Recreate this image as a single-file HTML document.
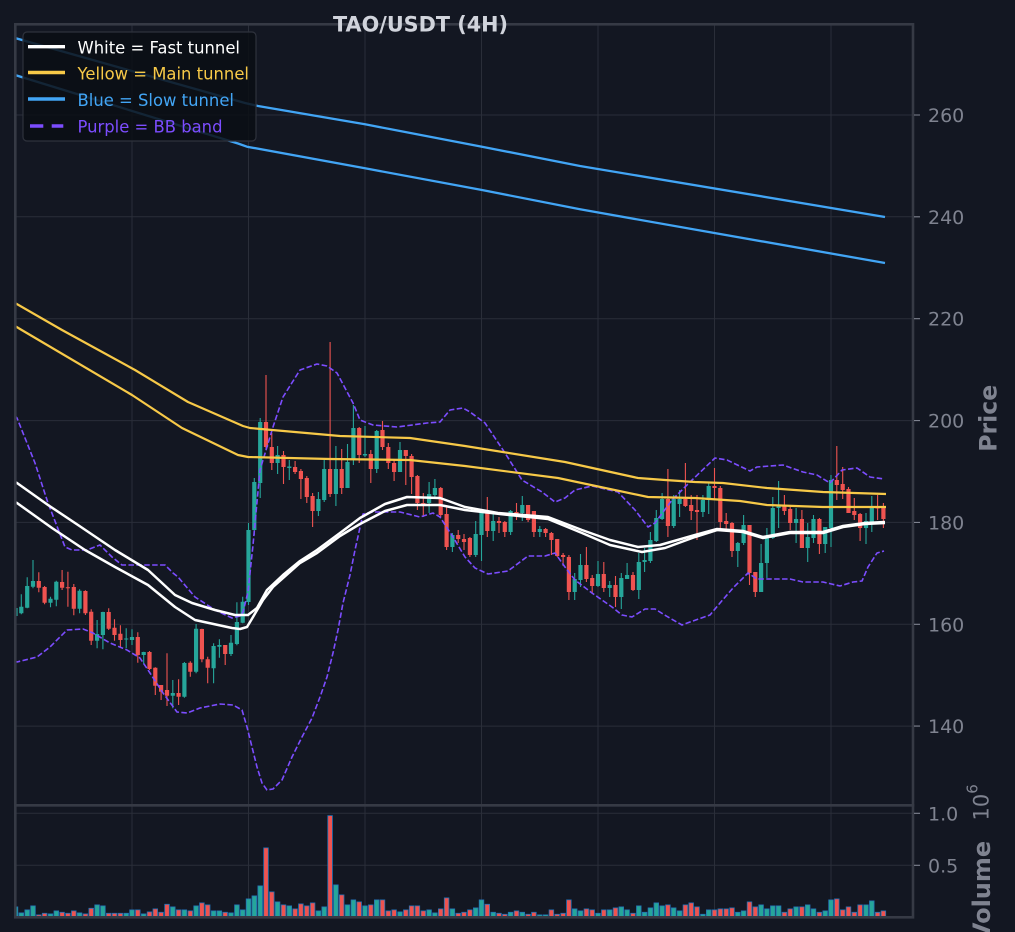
<!DOCTYPE html>
<html><head><meta charset="utf-8"><style>
html,body{margin:0;padding:0;background:#131722;}
svg{display:block;}
text{font-family:"DejaVu Sans","Liberation Sans",sans-serif;}
</style></head><body>
<svg width="1015" height="932" viewBox="0 0 1015 932" xmlns="http://www.w3.org/2000/svg">
<defs>
<clipPath id="cm"><rect x="15.3" y="24.3" width="897.7" height="781"/></clipPath>
<clipPath id="cv"><rect x="15.3" y="805.3" width="897.7" height="112"/></clipPath>
</defs>
<rect width="1015" height="932" fill="#131722"/>
<!-- grid -->
<g stroke="#2a2e39" stroke-width="1">
<path d="M15 115H913M15 216.8H913M15 318.7H913M15 420.6H913M15 522.4H913M15 624.3H913M15 726.1H913"/>
<path d="M132 24V805M248.5 24V805M365 24V805M481.5 24V805M598 24V805M714.5 24V805M831 24V805"/>
<path d="M15 813.3H913M15 865.3H913"/>
<path d="M132 805V917M248.5 805V917M365 805V917M481.5 805V917M598 805V917M714.5 805V917M831 805V917"/>
</g>
<g clip-path="url(#cm)">
<!-- candles -->
<path fill="none" stroke="#26a69a" stroke-width="1.1" d="M15.5 604V620M21.3 594.3V614.3M27.2 577.3V608.3M33 560V588.3M50.5 596.7V607.3M56.3 580.7V606.3M79.6 589.3V613.3M97.1 620V648.3M102.9 611.7V649.3M126.2 628.3V648.3M132 629.3V645M143.7 651.7V664M172.8 680V708.3M184.4 662V697.7M196.1 624V673.3M213.6 643.3V683.3M219.4 639.3V657.7M231 635V656M236.9 602.3V645.3M242.7 596.7V623.3M248.5 523V605M254.3 478V535M260.2 418V498M277.6 446V474M289.3 460V480M318.4 492V516M324.2 460V502M335.9 446V506M347.5 444V488M353.4 405V465M365 426V457M376.7 430V473M400 442V472M429.1 482V513M434.9 479V497M452.4 533V552M475.7 521V557M481.5 511V561M493.2 511V541M510.6 510V535M522.3 496V521M539.8 526V537M574.7 573V600M580.5 554V587M598 561V587M609.7 581V597M621.3 573V609M627.1 563V579M638.8 553V599M644.6 548V572M650.4 532V563M656.3 510V542M662.1 493V520M673.7 495V528M679.6 490V517M702.9 495V517M708.7 483V514M737.8 542V567M743.6 515V545M761.1 544V592M766.9 528V578M772.8 497V539M778.6 481V528M796.1 508V543M807.7 523V562M813.5 515V543M825.2 527V553M831 475V547M866 513V544M871.8 496V532"/>
<path fill="none" stroke="#26a69a" stroke-width="4.2" d="M15.5 608V616M21.3 606.7V613.3M27.2 586V607.7M33 581V586.7M50.5 598.7V602.7M56.3 581.7V599.7M79.6 590.7V608.7M97.1 634V640.7M102.9 612V635M126.2 638.5V639.5M132 637V640M143.7 652V655M172.8 693V695.7M184.4 663V696.7M196.1 628.7V671.7M213.6 646V668.3M219.4 645V646.7M231 642.7V654M236.9 622V644M242.7 601.7V622.7M248.5 530V602M254.3 482V530M260.2 422V483M277.6 455V463M289.3 466.5V468M318.4 499V511M324.2 469V500M335.9 469V494M347.5 462V488M353.4 428V459M365 454V455.5M376.7 431V469M400 450V472M429.1 494V503M434.9 488V495M452.4 535V547M475.7 534V555M481.5 511V535M493.2 521V531M510.6 511V532M522.3 505V513M539.8 529V532M574.7 579V592M580.5 565V580M598 574V586M609.7 585V588M621.3 578V597M627.1 575V579M638.8 562V590M644.6 560V562M650.4 540V561M656.3 518V541M662.1 499V519M673.7 499V526M679.6 499V504M702.9 500V512M708.7 486V500M737.8 543V551M743.6 525V543M761.1 563V592M766.9 537V563M772.8 508V538M778.6 506V508M796.1 519V523M807.7 537V548M813.5 519V538M825.2 527V544M831 480V528M866 521V528M871.8 507V522"/>
<path fill="none" stroke="#ef5350" stroke-width="1.1" d="M38.8 572.3V592.3M44.6 586V604.3M62.1 570V590M67.9 571.7V606.7M73.8 584V615.3M85.4 590.3V615M91.2 609.3V645M108.7 608.3V630M114.5 619.3V640.7M120.4 625.3V647.3M137.8 632.3V662.7M149.5 651V670M155.3 667.3V695M161.1 685V700M167 653.3V706M178.6 679.3V705M190.3 661.3V676.7M201.9 628.7V662.3M207.7 656.7V683.3M225.2 645V665M266 375V450M271.8 433V470M283.5 451V484M295.1 461V474M300.9 469V499M306.8 476V503M312.6 493V527M330.1 342V497M341.7 449V494M359.2 427V463M370.8 450V483M382.5 421V450M388.3 443V469M394.1 460V481M405.8 450V485M411.6 454V494M417.4 475V510M423.3 493V517M440.7 487V517M446.6 507V550M458.2 530V543M464 534V550M469.9 537V557M487.3 497V537M499 517V533M504.8 521V537M516.5 503V520M528.1 505V522M533.9 511V537M545.6 528V537M551.4 532V555M557.2 539V557M563.1 553V566M568.9 555V600M586.4 547V582M592.2 575V593M603.8 562V592M615.5 576V607M633 572V591M667.9 469V537M685.4 463V507M691.2 495V520M697 495V540M714.5 468V500M720.3 486V528M726.2 513V532M732 522V557M749.5 525V585M755.3 572V597M784.4 495V515M790.2 507V530M801.9 510V548M819.4 518V554M836.8 446V500M842.7 467V499M848.5 487V513M854.3 498V520M860.1 513V541M877.6 495V520M883.4 503V528"/>
<path fill="none" stroke="#ef5350" stroke-width="4.2" d="M38.8 581V587.7M44.6 587V602.7M62.1 582V587.7M67.9 587.3V588.3M73.8 587V608.7M85.4 591V613.3M91.2 611.7V640.7M108.7 612V628.7M114.5 627.7V635M120.4 633.7V640M137.8 637V655M149.5 652V669M155.3 667.7V685.7M161.1 685V691.7M167 690V695.7M178.6 693V696.7M190.3 662.7V671.7M201.9 629V659.3M207.7 659.3V667.7M225.2 645V654M266 422V447M271.8 447V463M283.5 455V467M295.1 467V472M300.9 471V479M306.8 478V497M312.6 496V511M330.1 469V494M341.7 469V488M359.2 428V455M370.8 454V469M382.5 430V447M388.3 447V463M394.1 463V472M405.8 450V456M411.6 456V477M417.4 476V503M423.3 503V505M440.7 488V515M446.6 514V547M458.2 535V539M464 539V542M469.9 538V555M487.3 511V531M499 521V523M504.8 522V532M516.5 512V513.5M528.1 505V520M533.9 511V532M545.6 529V533M551.4 533V540M557.2 539V556M563.1 555V557M568.9 557V592M586.4 565V579M592.2 578V586M603.8 574V588M615.5 585V597M633 575V590M667.9 499V526M685.4 499V506M691.2 505V511M697 510V512M714.5 486V488M720.3 488V522M726.2 521V524M732 523V551M749.5 525V573M755.3 572V592M784.4 506V511M790.2 509V523M801.9 519V548M819.4 519V544M836.8 480V485M842.7 484V490M848.5 489V513M854.3 511V515M860.1 514V528M877.6 507V508.5M883.4 508V519"/>
<!-- BB bands -->
<g fill="none" stroke="#7c4dff" stroke-width="1.6" stroke-dasharray="5.5 2.4" stroke-linejoin="round">
<polyline points="15,416 17,418 35,463 48,503 65,547 72,550 87,550 100,545 112,557 122,565 142,565 165,565 173,573 178,577 195,597 215,610 232,618 240,616 243,612 248,592 253,545 260,470 273,427 283,397 300,370 317,364 327,366 337,373 353,403 360,420 373,425 397,427 427,423 440,422 450,410 463,408 470,412 485,423 505,453 522,480 542,492 555,502 565,498 575,490 592,486 618,492 635,510 648,527 655,523 672,500 690,482 715,458 727,460 750,471 757,467 783,465 803,472 817,475 830,483 842,470 857,468 870,477 884,479"/>
<polyline points="15,661 17,662 37,657 50,647 67,630 83,629 93,633 110,643 127,650 140,658 150,673 163,693 177,712 187,713 200,708 220,704 233,705 242,710 247,727 252,747 257,767 262,783 267,790 273,789 282,780 292,757 302,737 312,718 320,697 327,677 333,653 338,630 343,603 350,575 355,550 363,514 373,512 400,512 420,517 433,513 440,517 453,537 465,557 475,568 488,574 508,571 528,556 545,556 555,553 565,567 575,580 592,593 612,607 622,615 632,617 645,609 655,609 668,617 682,625 690,622 710,615 720,603 733,588 748,573 757,579 790,579 803,582 823,582 840,586 853,582 862,581 868,567 877,553 884,551"/>
</g>
<!-- yellow -->
<g fill="none" stroke="#f7c948" stroke-width="2.2" stroke-linejoin="round">
<polyline points="15,303 62,330 135,370 188,402 243,426 250,428 340,436 410,438 465,446 565,462 638,478 665,480 695,482 723,483 767,488 823,492 886,494"/>
<polyline points="15,326 20,329 132,395 182,428 238,455 248,457 330,459 410,460 465,466 558,478 648,497 695,498 740,501 767,505 823,507 886,507"/>
</g>
<!-- blue -->
<g fill="none" stroke="#42a5f5" stroke-width="2.3" stroke-linejoin="round">
<polyline points="15,38 245,103 258,106 365,124.3 482,146.7 580,166 885,217"/>
<polyline points="15,75 238,143.5 247,146.7 365,168.3 482,190 580,209.3 885,263"/>
</g>
<!-- white -->
<g fill="none" stroke="#ffffff" stroke-width="2.5" stroke-linejoin="round">
<polyline points="15,482 17,483 48,505 78,525 115,550 148,570 175,595 192,603 215,610 235,615 248,615 257,608 267,590 283,575 300,561 317,550 340,533 360,518 385,504 407,497 440,498 465,507 498,513 548,517 582,530 610,540 638,547 660,545 695,535 717,529 743,531 763,537 790,532 823,532 843,526 865,523 885,522"/>
<polyline points="15,502 17,503 52,528 85,550 115,567 148,585 175,607 195,620 232,628 240,629 247,627 253,617 263,600 273,587 300,563 317,553 340,536 360,524 385,511 407,505 440,505 465,510 500,514 548,519 582,533 610,545 642,552 665,548 695,537 717,530 743,532 763,538 790,533 823,533 843,527 865,524 885,523"/>
</g>
</g>
<!-- volume -->
<g clip-path="url(#cv)" fill="none">
<path stroke="#2372b5" stroke-width="5.4" transform="translate(0,-0.8)" d="M15.5 907.3V918M21.3 913.3V918M27.2 910.3V918M33 906.3V918M38.8 915.3V918M44.6 913.7V918M50.5 914.3V918M56.3 911.3V918M62.1 912.7V918M67.9 913.7V918M73.8 911.3V918M79.6 913.3V918M85.4 914.3V918M91.2 908.7V918M97.1 905.3V918M102.9 906.3V918M108.7 913.7V918M114.5 913.7V918M120.4 913.7V918M126.2 913.7V918M132 910.3V918M137.8 910.3V918M143.7 914.3V918M149.5 912.3V918M155.3 909.3V918M161.1 912.7V918M167 904.7V918M172.8 907.3V918M178.6 910.3V918M184.4 910.3V918M190.3 911.3V918M196.1 906.3V918M201.9 903.3V918M207.7 905.3V918M213.6 911.3V918M219.4 911.3V918M225.2 912.7V918M231 913.3V918M236.9 905.3V918M242.7 910.3V918M248.5 899.3V918M254.3 896.3V918M260.2 886.3V918M266 848.3V918M271.8 892.3V918M277.6 902.3V918M283.5 905.3V918M289.3 906.3V918M295.1 909.3V918M300.9 904.3V918M306.8 906.3V918M312.6 903.3V918M318.4 911.3V918M324.2 907.3V918M330.1 816V918M335.9 885.3V918M341.7 895.3V918M347.5 905.3V918M353.4 900.3V918M359.2 902.3V918M365 906.3V918M370.8 905.3V918M376.7 900.3V918M382.5 900.3V918M388.3 911.3V918M394.1 910.3V918M400 912.3V918M405.8 910.3V918M411.6 906.3V918M417.4 906.3V918M423.3 911.3V918M429.1 910.3V918M434.9 913.3V918M440.7 909.3V918M446.6 898.3V918M452.4 909.3V918M458.2 913.7V918M464 912.7V918M469.9 910.3V918M475.7 908.3V918M481.5 900.3V918M487.3 904.7V918M493.2 912.7V918M499 913.7V918M504.8 914.7V918M510.6 912.7V918M516.5 911.3V918M522.3 912.7V918M528.1 914.7V918M533.9 912.7V918M539.8 915.3V918M545.6 915.3V918M551.4 910.3V918M557.2 914.7V918M563.1 913.7V918M568.9 900.3V918M574.7 909.3V918M580.5 911.3V918M586.4 909.3V918M592.2 910.3V918M598 913.7V918M603.8 910.3V918M609.7 910.3V918M615.5 908.3V918M621.3 907.3V918M627.1 910.3V918M633 913.7V918M638.8 906.3V918M644.6 912.7V918M650.4 908.3V918M656.3 903.3V918M662.1 906.3V918M667.9 905.3V918M673.7 908.3V918M679.6 911.3V918M685.4 905.3V918M691.2 903.3V918M697 907.3V918M702.9 914.7V918M708.7 910.3V918M714.5 910.3V918M720.3 909.3V918M726.2 909.3V918M732 908.3V918M737.8 912.7V918M743.6 911.3V918M749.5 902.3V918M755.3 907.3V918M761.1 905.3V918M766.9 909.3V918M772.8 906.3V918M778.6 906.3V918M784.4 912.7V918M790.2 909.3V918M796.1 907.3V918M801.9 907.3V918M807.7 905.3V918M813.5 909.3V918M819.4 912.7V918M825.2 911.3V918M831 900.3V918M836.8 899.3V918M842.7 910.3V918M848.5 907.3V918M854.3 912.7V918M860.1 905.3V918M866 905.3V918M871.8 901.3V918M877.6 912.7V918M883.4 911.3V918"/>
<path stroke="#26a69a" stroke-width="3.8" d="M15.5 907.3V918M21.3 913.3V918M27.2 910.3V918M33 906.3V918M50.5 914.3V918M56.3 911.3V918M79.6 913.3V918M97.1 905.3V918M102.9 906.3V918M126.2 913.7V918M132 910.3V918M143.7 914.3V918M172.8 907.3V918M184.4 910.3V918M196.1 906.3V918M213.6 911.3V918M219.4 911.3V918M231 913.3V918M236.9 905.3V918M242.7 910.3V918M248.5 899.3V918M254.3 896.3V918M260.2 886.3V918M277.6 902.3V918M289.3 906.3V918M318.4 911.3V918M324.2 907.3V918M335.9 885.3V918M347.5 905.3V918M353.4 900.3V918M365 906.3V918M376.7 900.3V918M400 912.3V918M429.1 910.3V918M434.9 913.3V918M452.4 909.3V918M475.7 908.3V918M481.5 900.3V918M493.2 912.7V918M510.6 912.7V918M522.3 912.7V918M539.8 915.3V918M545.6 915.3V918M574.7 909.3V918M580.5 911.3V918M598 913.7V918M609.7 910.3V918M621.3 907.3V918M627.1 910.3V918M638.8 906.3V918M644.6 912.7V918M650.4 908.3V918M656.3 903.3V918M662.1 906.3V918M673.7 908.3V918M679.6 911.3V918M702.9 914.7V918M708.7 910.3V918M737.8 912.7V918M743.6 911.3V918M761.1 905.3V918M766.9 909.3V918M772.8 906.3V918M778.6 906.3V918M796.1 907.3V918M807.7 905.3V918M813.5 909.3V918M825.2 911.3V918M831 900.3V918M866 905.3V918M871.8 901.3V918"/>
<path stroke="#ef5350" stroke-width="3.8" d="M38.8 915.3V918M44.6 913.7V918M62.1 912.7V918M67.9 913.7V918M73.8 911.3V918M85.4 914.3V918M91.2 908.7V918M108.7 913.7V918M114.5 913.7V918M120.4 913.7V918M137.8 910.3V918M149.5 912.3V918M155.3 909.3V918M161.1 912.7V918M167 904.7V918M178.6 910.3V918M190.3 911.3V918M201.9 903.3V918M207.7 905.3V918M225.2 912.7V918M266 848.3V918M271.8 892.3V918M283.5 905.3V918M295.1 909.3V918M300.9 904.3V918M306.8 906.3V918M312.6 903.3V918M330.1 816V918M341.7 895.3V918M359.2 902.3V918M370.8 905.3V918M382.5 900.3V918M388.3 911.3V918M394.1 910.3V918M405.8 910.3V918M411.6 906.3V918M417.4 906.3V918M423.3 911.3V918M440.7 909.3V918M446.6 898.3V918M458.2 913.7V918M464 912.7V918M469.9 910.3V918M487.3 904.7V918M499 913.7V918M504.8 914.7V918M516.5 911.3V918M528.1 914.7V918M533.9 912.7V918M551.4 910.3V918M557.2 914.7V918M563.1 913.7V918M568.9 900.3V918M586.4 909.3V918M592.2 910.3V918M603.8 910.3V918M615.5 908.3V918M633 913.7V918M667.9 905.3V918M685.4 905.3V918M691.2 903.3V918M697 907.3V918M714.5 910.3V918M720.3 909.3V918M726.2 909.3V918M732 908.3V918M749.5 902.3V918M755.3 907.3V918M784.4 912.7V918M790.2 909.3V918M801.9 907.3V918M819.4 912.7V918M836.8 899.3V918M842.7 910.3V918M848.5 907.3V918M854.3 912.7V918M860.1 905.3V918M877.6 912.7V918M883.4 911.3V918"/>
</g>
<!-- spines -->
<g fill="none" stroke="#363a45" stroke-width="2.6">
<rect x="15.3" y="24.3" width="897.7" height="781"/>
<rect x="15.3" y="805.3" width="897.7" height="112"/>
</g>
<!-- ticks -->
<g stroke="#7f8390" stroke-width="1.1">
<path d="M914 115H920M914 216.8H920M914 318.7H920M914 420.6H920M914 522.4H920M914 624.3H920M914 726.1H920M914 813.3H920M914 865.3H920"/>
</g>
<g fill="#7f8390" font-size="19">
<text x="928" y="122">260</text>
<text x="928" y="223.8">240</text>
<text x="928" y="325.7">220</text>
<text x="928" y="427.6">200</text>
<text x="928" y="529.4">180</text>
<text x="928" y="631.3">160</text>
<text x="928" y="733.1">140</text>
<text x="928" y="820.3">1.0</text>
<text x="928" y="872.3">0.5</text>
</g>
<text transform="translate(996.5,418.3) rotate(-90)" text-anchor="middle" font-size="24" font-weight="bold" fill="#7f8390" textLength="67" lengthAdjust="spacingAndGlyphs">Price</text>
<text transform="translate(990,891) rotate(-90)" text-anchor="middle" font-size="24" font-weight="bold" fill="#7f8390">Volume</text>
<text transform="translate(988.5,820.5) rotate(-90)" font-size="21" fill="#7f8390">10<tspan dy="-11" font-size="15">6</tspan></text>
<!-- title -->
<text x="333" y="31.5" font-size="21" font-weight="bold" fill="#d1d4dc" textLength="175" lengthAdjust="spacingAndGlyphs">TAO/USDT (4H)</text>
<!-- legend -->
<rect x="23" y="32" width="233" height="109" rx="4" fill="#0b0e14" fill-opacity="0.85" stroke="#2e323c" stroke-width="1.2"/>
<g stroke-width="3.4">
<path d="M28 46.7H65" stroke="#ffffff"/>
<path d="M28 72.5H65" stroke="#f7c948"/>
<path d="M28 99H65" stroke="#42a5f5"/>
<path d="M30 126H43.3M51.7 126H63.3" stroke="#7c4dff"/>
</g>
<g font-size="17">
<text x="77.5" y="53.3" fill="#ffffff" textLength="162.5" lengthAdjust="spacingAndGlyphs">White = Fast tunnel</text>
<text x="77.5" y="79.5" fill="#f7c948" textLength="171.5" lengthAdjust="spacingAndGlyphs">Yellow = Main tunnel</text>
<text x="77.5" y="106" fill="#42a5f5" textLength="156.5" lengthAdjust="spacingAndGlyphs">Blue = Slow tunnel</text>
<text x="77.5" y="132.5" fill="#7c4dff" textLength="145" lengthAdjust="spacingAndGlyphs">Purple = BB band</text>
</g>
</svg>
</body></html>
